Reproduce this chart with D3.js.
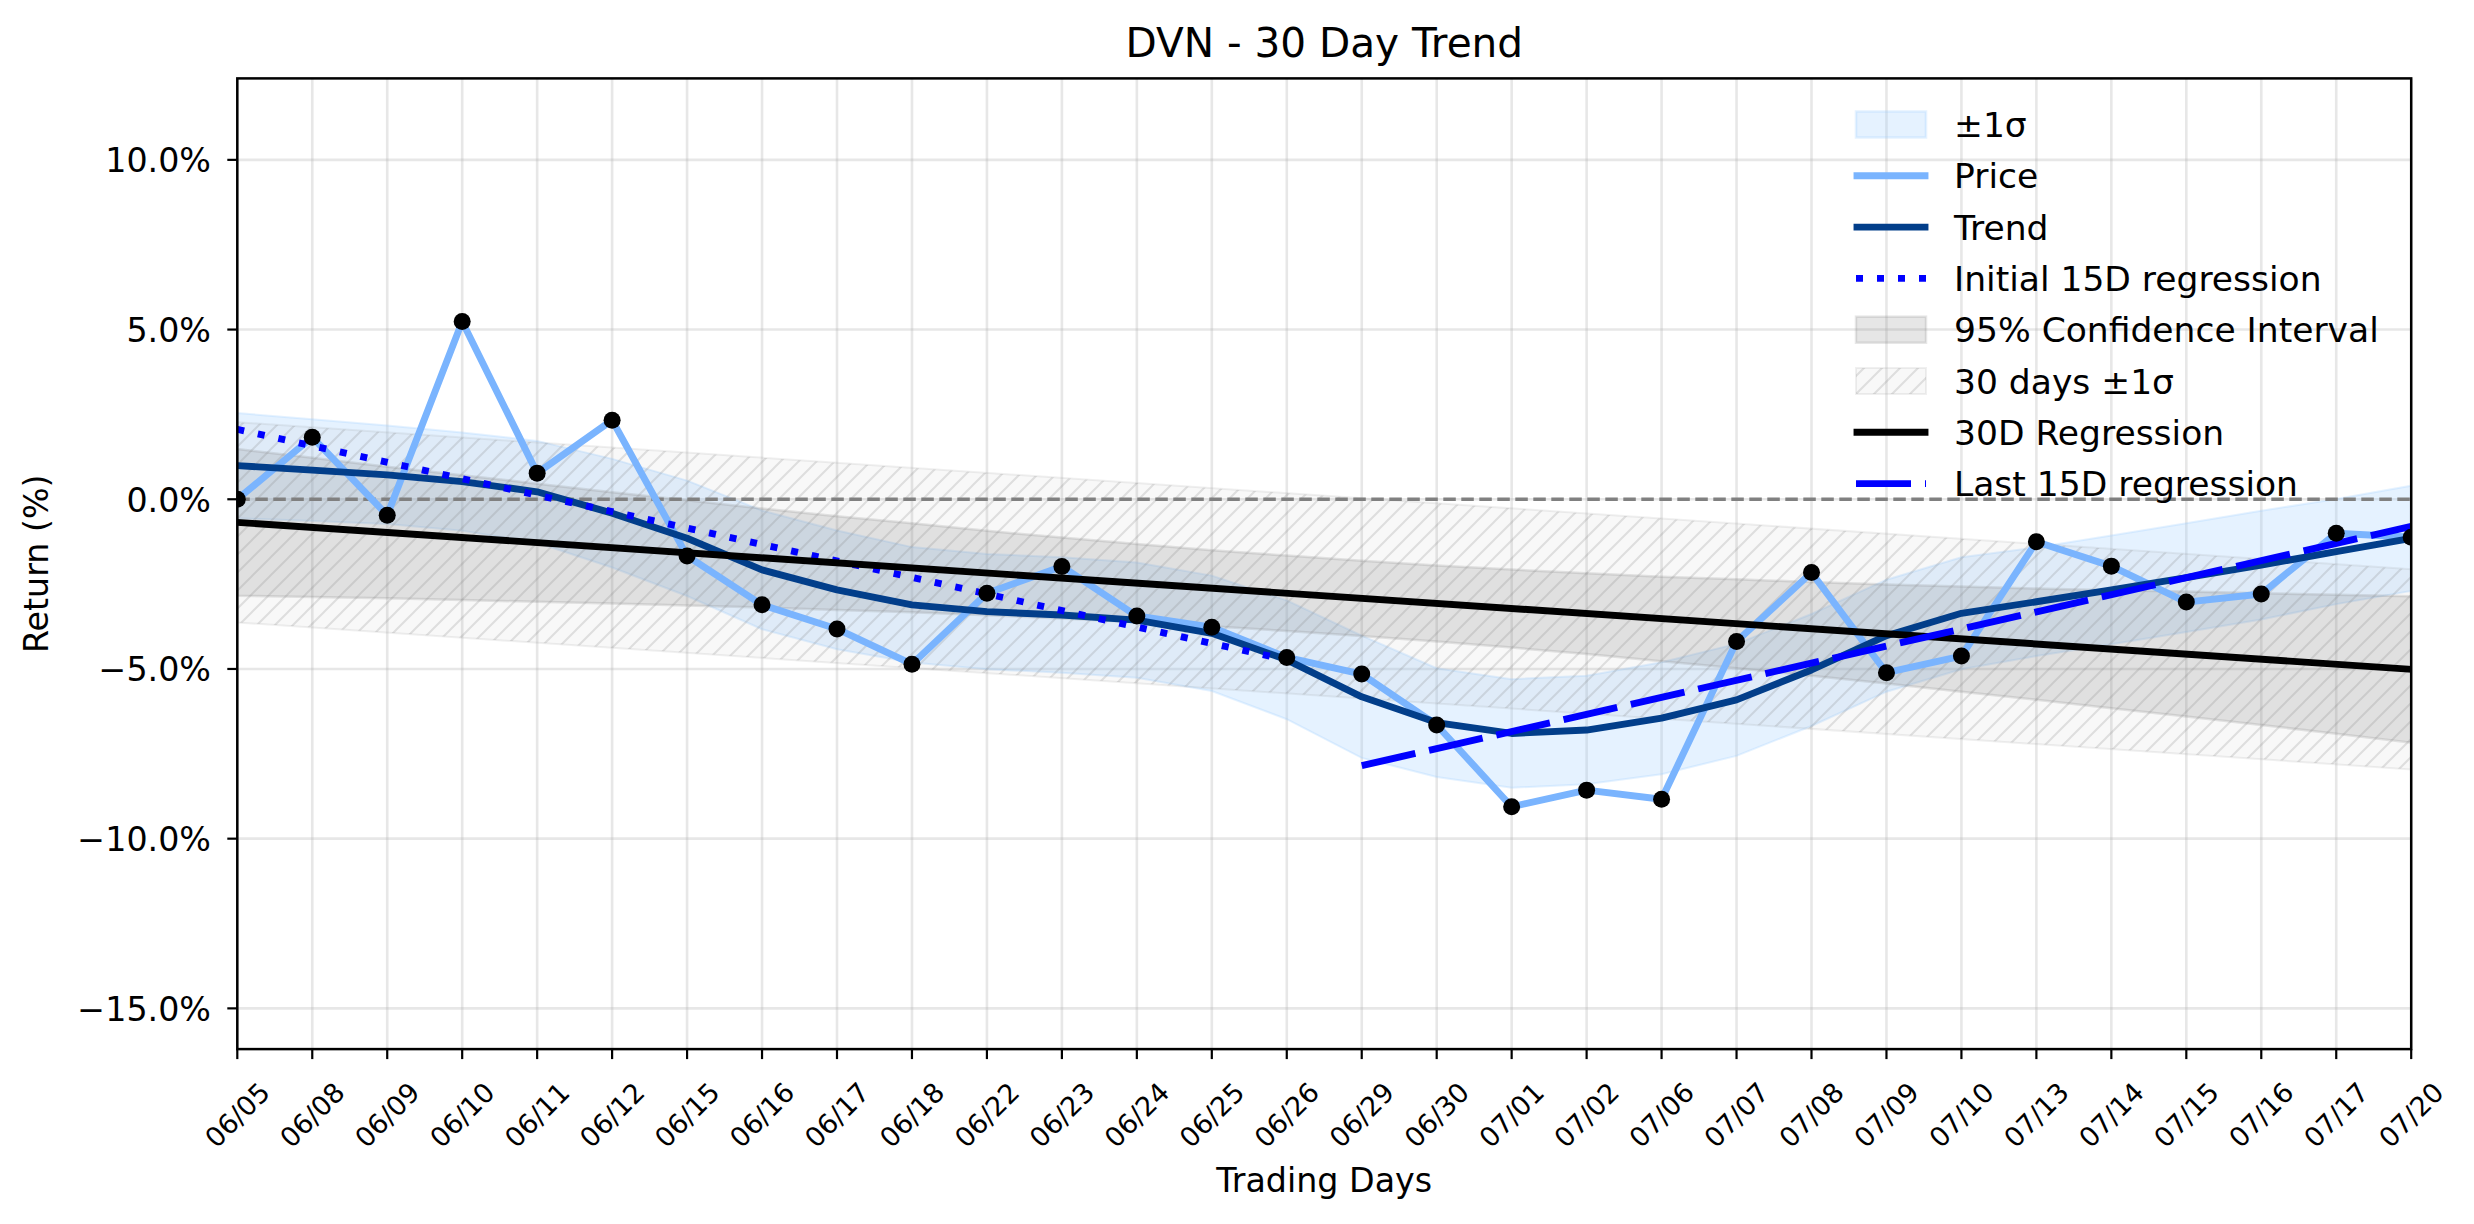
<!DOCTYPE html>
<html>
<head>
<meta charset="utf-8">
<script src="https://cdn.jsdelivr.net/npm/d3@7"></script>
<style>
  body { margin: 0; background: #fff; }
  text { font-family: "DejaVu Sans", sans-serif; fill: #000; }
</style>
</head>
<body>
<svg id="chart" width="2474" height="1224"></svg>
<script>
const days = ["06/05", "06/08", "06/09", "06/10", "06/11", "06/12", "06/15", "06/16", "06/17", "06/18",
  "06/22", "06/23", "06/24", "06/25", "06/26", "06/29", "06/30", "07/01", "07/02", "07/06",
  "07/07", "07/08", "07/09", "07/10", "07/13", "07/14", "07/15", "07/16", "07/17", "07/20"];

// daily return in %
const price = [0.00, 1.83, -0.47, 5.24, 0.77, 2.33, -1.67, -3.11, -3.82, -4.86,
  -2.77, -1.98, -3.44, -3.77, -4.66, -5.15, -6.65, -9.06, -8.57, -8.84,
  -4.19, -2.16, -5.11, -4.62, -1.25, -1.97, -3.03, -2.79, -1.00, -1.12];

const trend = [0.99, 0.86, 0.72, 0.52, 0.22, -0.41, -1.15, -2.08, -2.67, -3.11,
  -3.31, -3.41, -3.56, -3.95, -4.73, -5.82, -6.58, -6.90, -6.80, -6.45,
  -5.91, -5.03, -4.02, -3.36, -3.02, -2.67, -2.31, -1.94, -1.54, -1.15];

// ±1σ around trend
const sigmaUpper = [2.54, 2.36, 2.17, 1.97, 1.72, 1.19, 0.55, -0.33, -0.92, -1.41,
  -1.61, -1.71, -1.86, -2.25, -2.98, -4.02, -4.98, -5.30, -5.20, -4.80,
  -4.26, -3.38, -2.37, -1.71, -1.42, -1.07, -0.71, -0.34, 0.01, 0.40];
const sigmaLower = [-0.56, -0.64, -0.73, -0.93, -1.28, -2.01, -2.85, -3.83, -4.42, -4.81,
  -5.01, -5.11, -5.26, -5.65, -6.48, -7.62, -8.18, -8.50, -8.40, -8.10,
  -7.56, -6.68, -5.67, -5.01, -4.62, -4.27, -3.91, -3.54, -3.09, -2.70];

// 95% confidence interval of the 30D regression
const ciUpper = [1.48, 1.22, 0.96, 0.71, 0.46, 0.21, -0.03, -0.27, -0.50, -0.71,
  -0.93, -1.13, -1.32, -1.50, -1.66, -1.81, -1.95, -2.07, -2.18, -2.28,
  -2.36, -2.44, -2.51, -2.57, -2.63, -2.68, -2.72, -2.77, -2.81, -2.86];
const ciLower = [-2.84, -2.88, -2.92, -2.97, -3.02, -3.07, -3.13, -3.19, -3.26, -3.33,
  -3.42, -3.51, -3.62, -3.74, -3.88, -4.03, -4.19, -4.37, -4.56, -4.77,
  -4.98, -5.20, -5.43, -5.67, -5.91, -6.16, -6.40, -6.65, -6.91, -7.17];

// straight lines: [value at first day, value at last day]
const reg30 = [-0.68, -5.01];
const band30Upper = [2.27, -2.06];
const band30Lower = [-3.63, -7.96];
const initReg = [2.06, -4.73];   // 06/05 .. 06/26
const lastReg = [-7.85, -0.80];  // 06/29 .. 07/20

const yTicks = [-15, -10, -5, 0, 5, 10];

const plotLeft = 237.3, plotRight = 2411.2, plotTop = 78.4, plotBottom = 1049.1;

const svg = d3.select("#chart");

const x = d3.scalePoint().domain(days).range([plotLeft, plotRight]);
const y = d3.scaleLinear().domain([-16.2, 12.4]).range([plotBottom, plotTop]);

const defs = svg.append("defs");
defs.append("clipPath").attr("id", "plot")
  .append("rect")
  .attr("x", plotLeft).attr("y", plotTop)
  .attr("width", plotRight - plotLeft).attr("height", plotBottom - plotTop);

const hatch = defs.append("pattern")
  .attr("id", "hatch")
  .attr("patternUnits", "userSpaceOnUse")
  .attr("width", 18).attr("height", 18);
hatch.append("path")
  .attr("d", "M-4.5,4.5 l9,-9 M0,18 l18,-18 M13.5,22.5 l9,-9")
  .attr("stroke", "#808080")
  .attr("stroke-opacity", 0.22)
  .attr("stroke-width", 2);

// grid
const grid = svg.append("g");
grid.selectAll("line.gx").data(days).enter().append("line")
  .attr("x1", d => x(d)).attr("x2", d => x(d))
  .attr("y1", plotTop).attr("y2", plotBottom)
  .attr("stroke", "#b0b0b0").attr("stroke-opacity", 0.3).attr("stroke-width", 2.6);
grid.selectAll("line.gy").data(yTicks).enter().append("line")
  .attr("x1", plotLeft).attr("x2", plotRight)
  .attr("y1", d => y(d)).attr("y2", d => y(d))
  .attr("stroke", "#b0b0b0").attr("stroke-opacity", 0.3).attr("stroke-width", 2.6);

const plot = svg.append("g").attr("clip-path", "url(#plot)");

function bandArea(up, lo) {
  return d3.area()
    .x((d, i) => x(days[i]))
    .y0((d, i) => y(lo[i]))
    .y1((d, i) => y(up[i]))(days);
}

// ±1σ band
plot.append("path")
  .attr("d", bandArea(sigmaUpper, sigmaLower))
  .attr("fill", "#99ccff").attr("fill-opacity", 0.25)
  .attr("stroke", "#99ccff").attr("stroke-opacity", 0.25).attr("stroke-width", 2);

// 95% CI
plot.append("path")
  .attr("d", bandArea(ciUpper, ciLower))
  .attr("fill", "#808080").attr("fill-opacity", 0.2)
  .attr("stroke", "#808080").attr("stroke-opacity", 0.2).attr("stroke-width", 2.5);

// 30 days ±1σ (hatched)
const ends = [days[0], days[days.length - 1]];
const band30 = d3.area()
  .x((d, i) => x(ends[i]))
  .y0((d, i) => y(band30Lower[i]))
  .y1((d, i) => y(band30Upper[i]))(ends);
plot.append("path").attr("d", band30)
  .attr("fill", "#808080").attr("fill-opacity", 0.055)
  .attr("stroke", "#808080").attr("stroke-opacity", 0.12).attr("stroke-width", 2);
plot.append("path").attr("d", band30).attr("fill", "url(#hatch)");

// zero line
plot.append("line")
  .attr("x1", plotLeft).attr("x2", plotRight)
  .attr("y1", y(0)).attr("y2", y(0))
  .attr("stroke", "#808080").attr("stroke-width", 3.3)
  .attr("stroke-dasharray", "12.5,5.5");

const line = d3.line().x(d => x(d.day)).y(d => y(d.v));

function series(vals, from) {
  return vals.map((v, i) => ({ day: days[from + i], v: v }));
}

plot.append("path")
  .attr("d", line(series(price, 0)))
  .attr("fill", "none").attr("stroke", "#7ab4fe").attr("stroke-width", 6.9)
  .attr("stroke-linejoin", "round").attr("stroke-linecap", "square");

plot.append("path")
  .attr("d", line(series(trend, 0)))
  .attr("fill", "none").attr("stroke", "#023e8a").attr("stroke-width", 6.9)
  .attr("stroke-linejoin", "round").attr("stroke-linecap", "square");

plot.append("path")
  .attr("d", line([{ day: days[0], v: initReg[0] }, { day: days[14], v: initReg[1] }]))
  .attr("fill", "none").attr("stroke", "#0000ff").attr("stroke-width", 6.9)
  .attr("stroke-dasharray", "7,14");

plot.append("path")
  .attr("d", line([{ day: days[0], v: reg30[0] }, { day: days[29], v: reg30[1] }]))
  .attr("fill", "none").attr("stroke", "#000").attr("stroke-width", 6.9)
  .attr("stroke-linecap", "square");

plot.append("path")
  .attr("d", line([{ day: days[15], v: lastReg[0] }, { day: days[29], v: lastReg[1] }]))
  .attr("fill", "none").attr("stroke", "#0000ff").attr("stroke-width", 6.9)
  .attr("stroke-dasharray", "55,14");

plot.selectAll("circle").data(series(price, 0)).enter().append("circle")
  .attr("cx", d => x(d.day)).attr("cy", d => y(d.v))
  .attr("r", 8.5).attr("fill", "#000");

// spines
svg.append("rect")
  .attr("x", plotLeft).attr("y", plotTop)
  .attr("width", plotRight - plotLeft).attr("height", plotBottom - plotTop)
  .attr("fill", "none").attr("stroke", "#000").attr("stroke-width", 2.5);

// ticks
svg.selectAll("line.tx").data(days).enter().append("line")
  .attr("x1", d => x(d)).attr("x2", d => x(d))
  .attr("y1", plotBottom).attr("y2", plotBottom + 10)
  .attr("stroke", "#000").attr("stroke-width", 2.2);
svg.selectAll("line.ty").data(yTicks).enter().append("line")
  .attr("x1", plotLeft - 10).attr("x2", plotLeft)
  .attr("y1", d => y(d)).attr("y2", d => y(d))
  .attr("stroke", "#000").attr("stroke-width", 2.2);

svg.selectAll("text.ylab").data(yTicks).enter().append("text")
  .attr("x", 211).attr("y", d => y(d) + 12.5)
  .attr("text-anchor", "end").attr("font-size", 33.3)
  .text(d => (d < 0 ? "\u2212" : "") + Math.abs(d).toFixed(1) + "%");

svg.selectAll("text.xlab").data(days).enter().append("text")
  .attr("transform", d => `translate(${x(d)},1115) rotate(-45)`)
  .attr("text-anchor", "middle").attr("dominant-baseline", "central")
  .attr("font-size", 27)
  .text(d => d);

svg.append("text")
  .attr("x", (plotLeft + plotRight) / 2).attr("y", 57)
  .attr("text-anchor", "middle").attr("font-size", 40.6)
  .text("DVN - 30 Day Trend");

svg.append("text")
  .attr("x", (plotLeft + plotRight) / 2).attr("y", 1192)
  .attr("text-anchor", "middle").attr("font-size", 33.3)
  .text("Trading Days");

svg.append("text")
  .attr("transform", `translate(48,${(plotTop + plotBottom) / 2}) rotate(-90)`)
  .attr("text-anchor", "middle").attr("font-size", 33.3)
  .text("Return (%)");

// legend
const legendItems = [
  { label: "\u00b11\u03c3", kind: "patch", fill: "#99ccff", op: 0.25 },
  { label: "Price", kind: "line", color: "#7ab4fe" },
  { label: "Trend", kind: "line", color: "#023e8a" },
  { label: "Initial 15D regression", kind: "line", color: "#0000ff", dash: "7,14" },
  { label: "95% Confidence Interval", kind: "patch", fill: "#808080", op: 0.2 },
  { label: "30 days \u00b11\u03c3", kind: "hatch" },
  { label: "30D Regression", kind: "line", color: "#000" },
  { label: "Last 15D regression", kind: "line", color: "#0000ff", dash: "55,14" }
];

const legend = svg.append("g");
legendItems.forEach((d, i) => {
  const cy = 124.5 + i * 51.3;
  const g = legend.append("g");
  if (d.kind === "line") {
    const l = g.append("line")
      .attr("y1", cy).attr("y2", cy)
      .attr("stroke", d.color).attr("stroke-width", 6.9);
    if (d.dash) {
      l.attr("x1", 1856).attr("x2", 1926).attr("stroke-dasharray", d.dash);
    } else {
      l.attr("x1", 1857).attr("x2", 1925).attr("stroke-linecap", "square");
    }
  } else if (d.kind === "patch") {
    g.append("rect")
      .attr("x", 1856).attr("y", cy - 13).attr("width", 70).attr("height", 26)
      .attr("fill", d.fill).attr("fill-opacity", d.op)
      .attr("stroke", d.fill).attr("stroke-opacity", d.op).attr("stroke-width", 2.5);
  } else {
    g.append("rect")
      .attr("x", 1856).attr("y", cy - 13).attr("width", 70).attr("height", 26)
      .attr("fill", "#808080").attr("fill-opacity", 0.055)
      .attr("stroke", "#808080").attr("stroke-opacity", 0.12).attr("stroke-width", 2);
    g.append("rect")
      .attr("x", 1856).attr("y", cy - 13).attr("width", 70).attr("height", 26)
      .attr("fill", "url(#hatch)");
  }
  g.append("text")
    .attr("x", 1954).attr("y", cy + 12.5)
    .attr("font-size", 34.5)
    .text(d.label);
});
</script>
</body>
</html>
